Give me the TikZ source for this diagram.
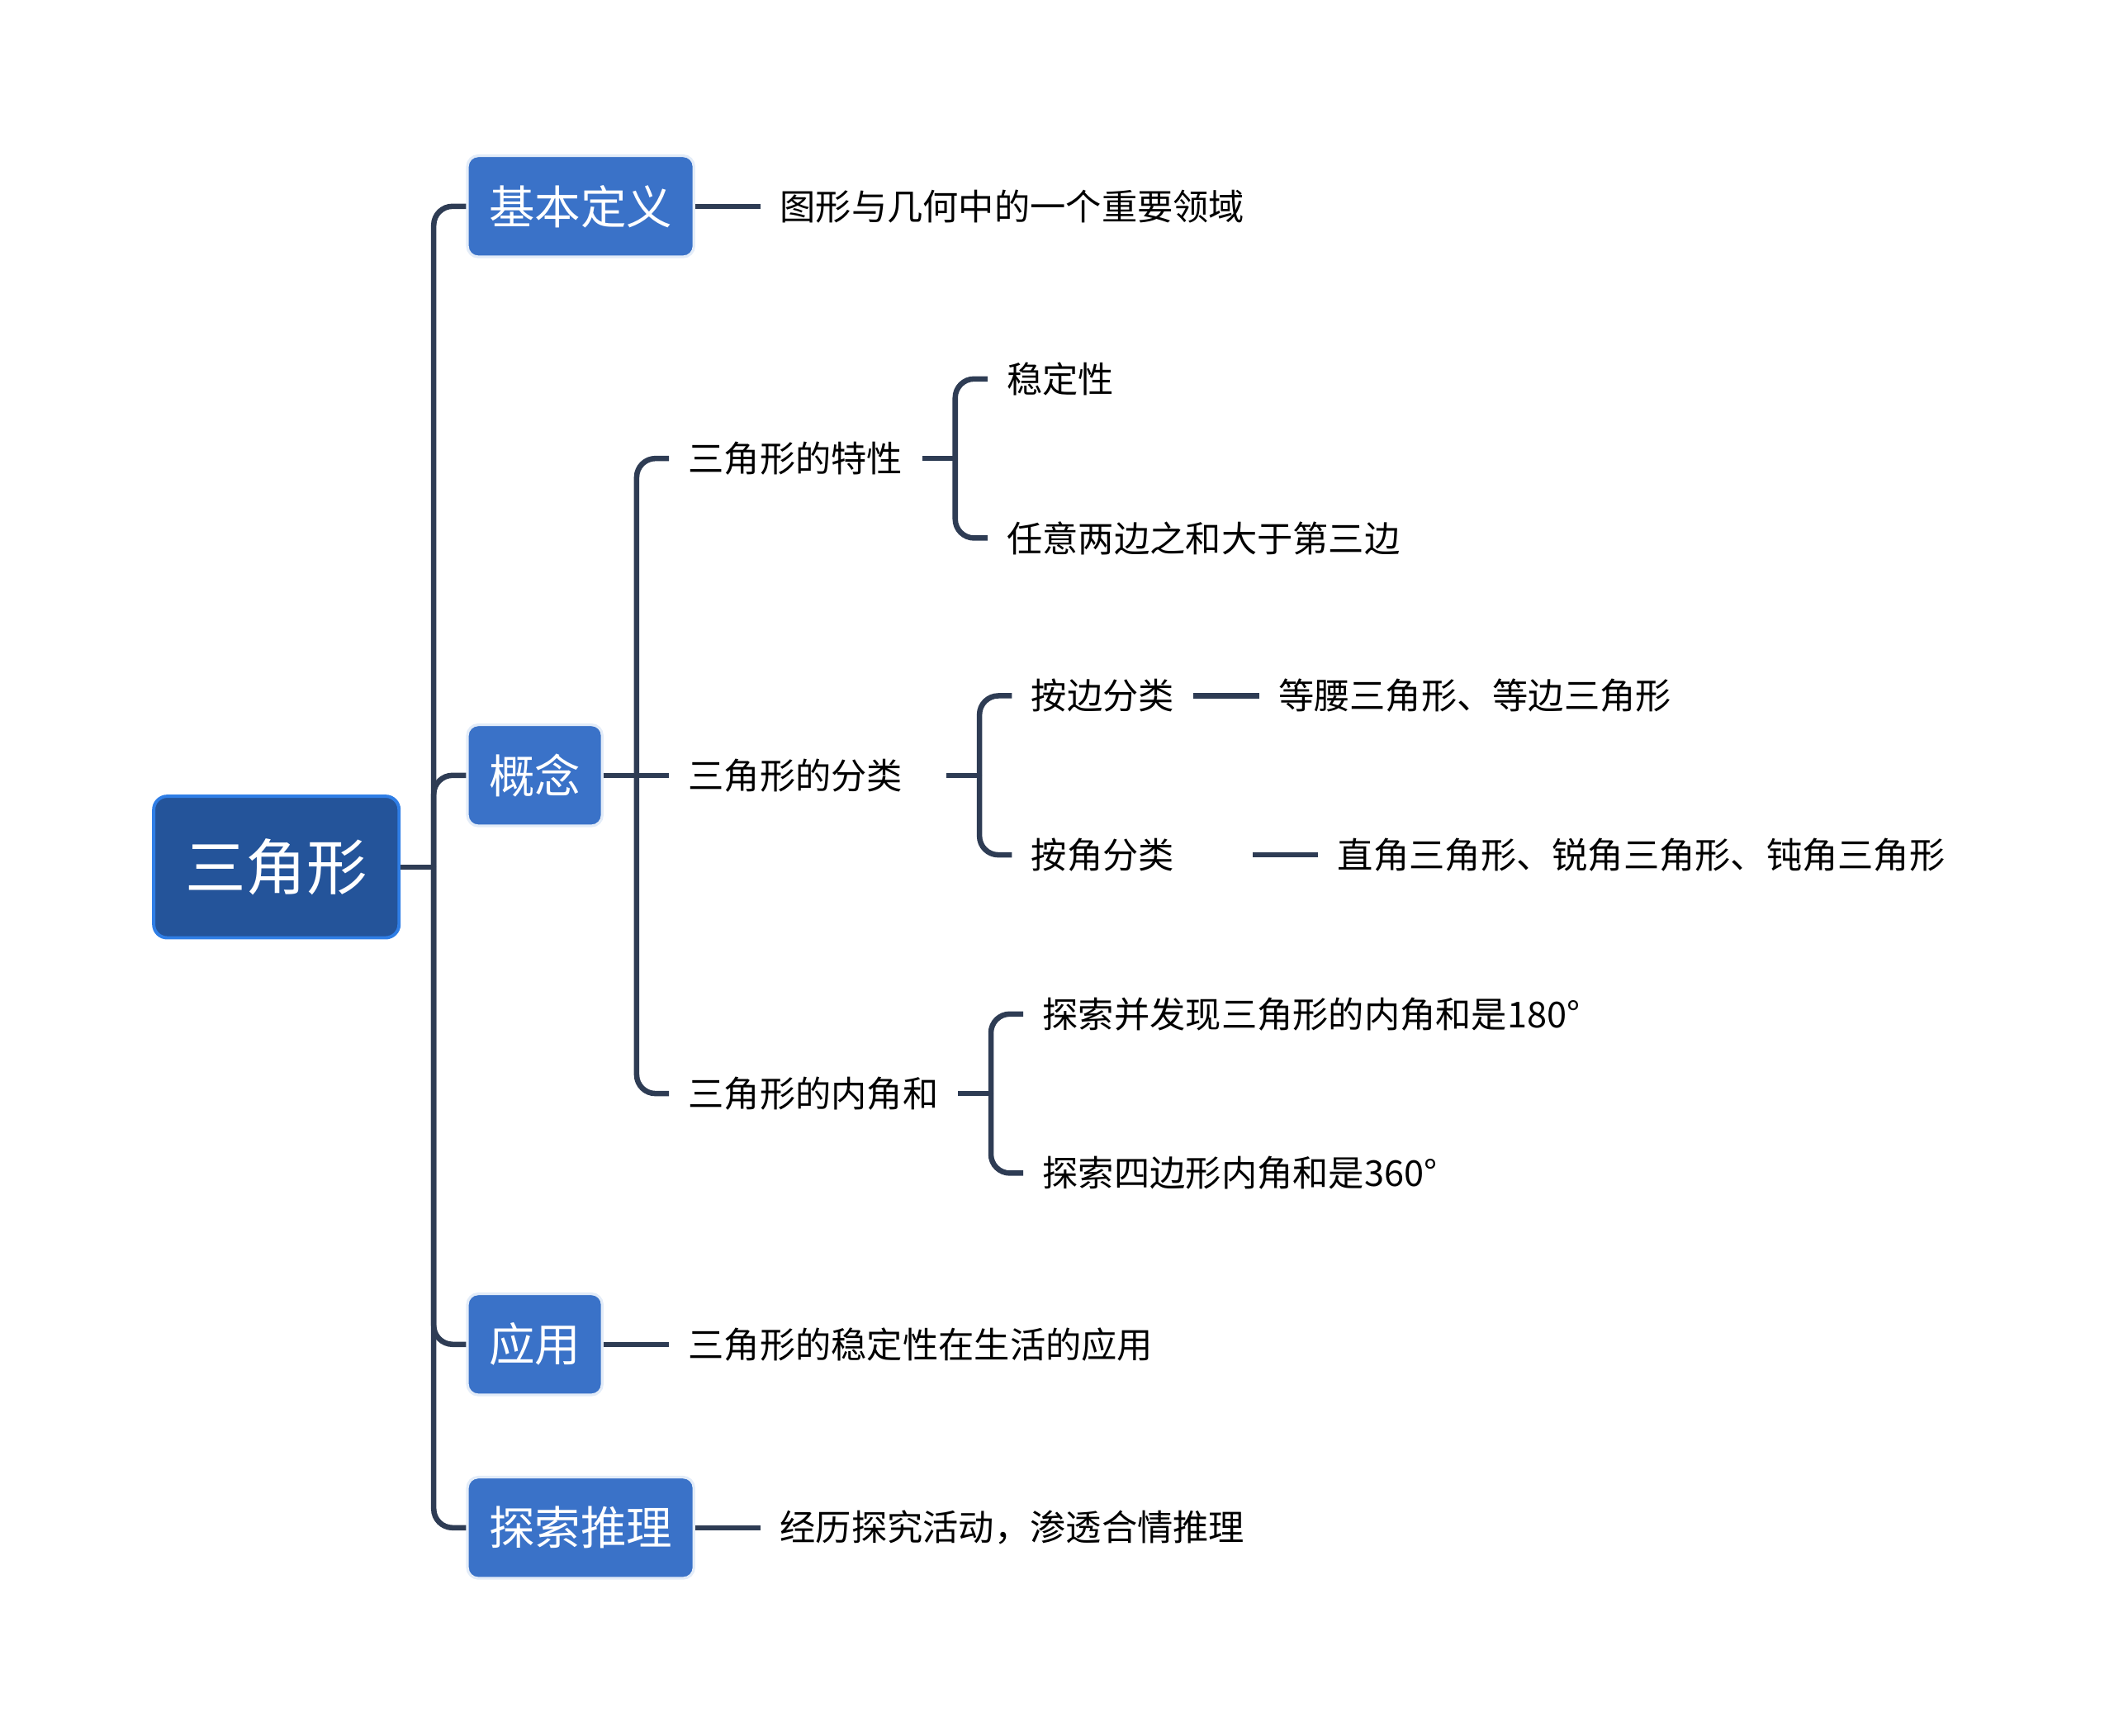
\documentclass[tikz,border=0pt]{standalone}
\usepackage{fontspec}
\setmainfont{Noto Sans CJK SC}
\usepackage{xcolor}
\usepackage{tikz}
\usetikzlibrary{positioning}

\definecolor{rootblue}{HTML}{24549A}
\definecolor{rootedge}{HTML}{2F7EE6}
\definecolor{topblue}{HTML}{3A72C8}
\definecolor{topedge}{HTML}{E3ECF8}
\definecolor{linkgray}{HTML}{2E3C54}

\begin{document}
\begin{tikzpicture}[
  node distance=24.25pt,
  rootbox/.style={draw=rootedge, fill=rootblue, line width=1.2pt, rounded corners=5pt, text=white, font=\fontsize{22.5pt}{27pt}\selectfont, inner xsep=11.75pt, minimum height=52.5pt},
  topbox/.style={draw=topedge, fill=topblue, line width=1pt, rounded corners=4pt, text=white, font=\fontsize{17pt}{20pt}\selectfont, inner xsep=8pt, minimum height=37.5pt},
  leaf/.style={font=\fontsize{13.25pt}{16pt}\selectfont, inner xsep=7pt, inner ysep=3pt},
  link/.style={draw=linkgray, line width=2pt, rounded corners=7pt}
]
\useasboundingbox (0,0) rectangle (784pt,-643.5pt);
\node[rootbox] (sjx) at (102.5pt,-321.5pt) {三角形};
\node[topbox, right=of sjx, yshift=245pt] (jbdy) {基本定义};
\node[topbox, right=of sjx, yshift=34pt] (gn) {概念};
\node[topbox, right=of sjx, yshift=-177pt] (yy) {应用};
\node[topbox, right=of sjx, yshift=-245pt] (tsl) {探索推理};
% second level
\node[leaf, right=of jbdy] (jbdy1) {图形与几何中的一个重要领域};
\node[leaf, right=of gn, yshift=117.5pt] (tx) {三角形的特性};
\node[leaf, right=of gn] (fl) {三角形的分类\hspace*{9pt}};
\node[leaf, right=of gn, yshift=-118pt] (njh) {三角形的内角和};
\node[leaf, right=of yy] (yy1) {三角形的稳定性在生活的应用};
\node[leaf, right=of tsl] (tsl1) {经历探究活动，渗透合情推理};
% third level
\node[leaf, right=of tx, yshift=29.5pt] (wdx) {稳定性};
\node[leaf, right=of tx, yshift=-29.5pt] (ryl) {任意两边之和大于第三边};
\node[leaf, right=of fl, yshift=29.5pt] (abfl) {按边分类};
\node[leaf, right=of fl, yshift=-29.5pt] (ajfl) {按角分类\hspace*{22pt}};
\node[leaf, right=of njh, yshift=29.5pt] (n180) {探索并发现三角形的内角和是180°};
\node[leaf, right=of njh, yshift=-29.5pt] (n360) {探索四边形内角和是360°};
\node[leaf, right=of abfl] (db) {等腰三角形、等边三角形};
\node[leaf, right=of ajfl] (zj) {直角三角形、锐角三角形、钝角三角形};
% connectors
\draw[link] (sjx.east) -- ++(12.25pt,0) coordinate (sjxj);
\foreach \c in {jbdy,gn,yy,tsl}
  \draw[link] (sjxj) |- (\c.west);
\draw[link] (gn) -- (fl);
\coordinate (gnj) at ([xshift=12.25pt]gn.east);
\foreach \c in {tx,njh}
  \draw[link] (gnj) |- (\c.west);
\draw[link] (tx.east) -- ++(12.25pt,0) coordinate (txj);
\foreach \c in {wdx,ryl}
  \draw[link] (txj) |- (\c.west);
\draw[link] (fl.east) -- ++(12.25pt,0) coordinate (flj);
\foreach \c in {abfl,ajfl}
  \draw[link] (flj) |- (\c.west);
\draw[link] (njh.east) -- ++(12.25pt,0) coordinate (njhj);
\foreach \c in {n180,n360}
  \draw[link] (njhj) |- (\c.west);
\draw[link] (jbdy) -- (jbdy1);
\draw[link] (yy) -- (yy1);
\draw[link] (tsl) -- (tsl1);
\draw[link] (abfl) -- (db);
\draw[link] (ajfl) -- (zj);
\end{tikzpicture}
\end{document}
